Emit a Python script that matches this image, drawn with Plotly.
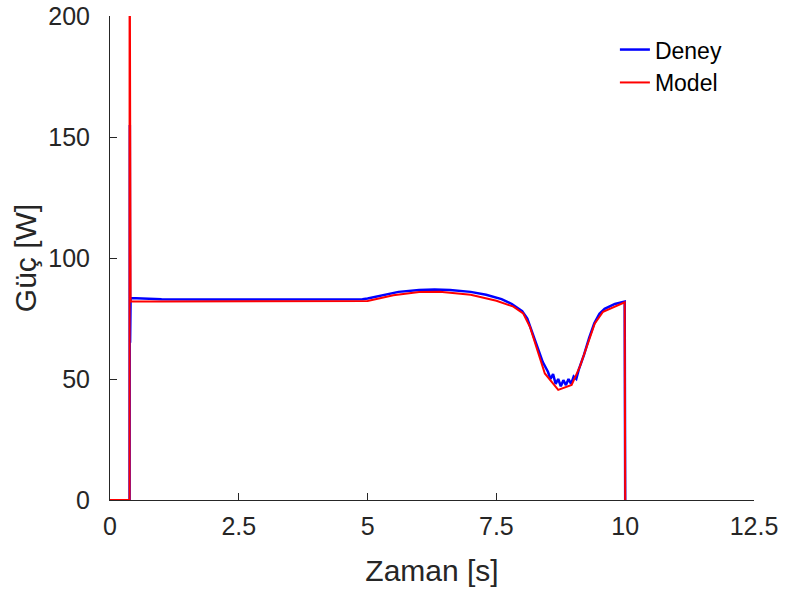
import plotly.graph_objects as go

# Deney (experiment) series
deney_t = [0.38, 0.385, 0.39, 0.40, 1.0, 2.0, 3.0, 4.0, 4.9, 5.0, 5.3, 5.6, 6.0, 6.3, 6.6,
           7.0, 7.3, 7.6, 7.8, 8.0, 8.1, 8.2, 8.3, 8.4, 8.5, 8.55, 8.6, 8.65, 8.7, 8.75,
           8.8, 8.85, 8.9, 8.95, 9.0, 9.05, 9.1, 9.2, 9.3, 9.4, 9.5, 9.6, 9.8, 9.99, 10.0]
deney_p = [0, 155, 65, 83.5, 83, 82.8, 82.8, 82.8, 83, 83.3, 84.8, 86, 86.8, 87, 86.8,
           86, 84.8, 83, 81, 78, 75, 69, 63, 57, 53, 50, 52, 48, 50, 47,
           49.5, 47.5, 50, 48, 51, 50, 54, 60, 67, 73, 77, 79, 81, 82, 0]

# Model series
model_t = [0, 0.38, 0.38, 0.40, 1.0, 4.95, 5.0, 5.5, 6.0, 6.4, 7.0, 7.5, 7.83, 8.02,
           8.15, 8.44, 8.70, 8.96, 9.12, 9.41, 9.57, 9.99, 10.0]
model_p = [0, 0, 260, 82, 82, 82, 82.2, 84.6, 85.9, 86.1, 84.8, 82.3, 79.9, 77.1,
           71.6, 52.3, 45.5, 47.5, 55.1, 73, 77.8, 81.7, 0]

x_ticks = [0, 2.5, 5, 7.5, 10, 12.5]
x_tick_labels = ["0", "2.5", "5", "7.5", "10", "12.5"]
y_ticks = [0, 50, 100, 150, 200]
y_tick_labels = ["0", "50", "100", "150", "200"]

fig = go.Figure()
fig.add_trace(go.Scatter(x=deney_t, y=deney_p, mode="lines", name="Deney",
                         line=dict(color="#0000ff", width=2.5)))
fig.add_trace(go.Scatter(x=model_t, y=model_p, mode="lines", name="Model",
                         line=dict(color="#ff0000", width=2)))

axis_col = "#262626"
font_family = "Liberation Sans, Arial, Helvetica, sans-serif"

fig.update_layout(
    width=785, height=594, autosize=False,
    margin=dict(l=110, r=31, t=16, b=94),
    plot_bgcolor="white", paper_bgcolor="white",
    font=dict(family=font_family, color=axis_col, size=25),
    showlegend=True,
    legend=dict(x=0.784, y=0.975, xanchor="left", yanchor="top",
                bgcolor="rgba(0,0,0,0)", borderwidth=0,
                font=dict(family=font_family, size=23, color="black")),
    xaxis=dict(range=[0, 12.5], tickvals=x_ticks, ticktext=x_tick_labels,
               showgrid=False, zeroline=False, showline=True, linecolor=axis_col,
               linewidth=1, ticks="inside", ticklen=7, tickcolor=axis_col,
               tickfont=dict(size=25), ticklabelstandoff=4, automargin=False,
               layer="below traces",
               title=dict(text="Zaman [s]", font=dict(size=30), standoff=20)),
    yaxis=dict(range=[0, 200], tickvals=y_ticks, ticktext=y_tick_labels,
               showgrid=False, zeroline=False, showline=True, linecolor=axis_col,
               linewidth=1, ticks="inside", ticklen=7, tickcolor=axis_col,
               tickfont=dict(size=25), ticklabelstandoff=14, automargin=False,
               layer="below traces",
               title=dict(text="Güç [W]", font=dict(size=30), standoff=2)),
)

fig.write_html("out.html", config={"displayModeBar": False},
               post_script="document.body.style.margin='0';")
